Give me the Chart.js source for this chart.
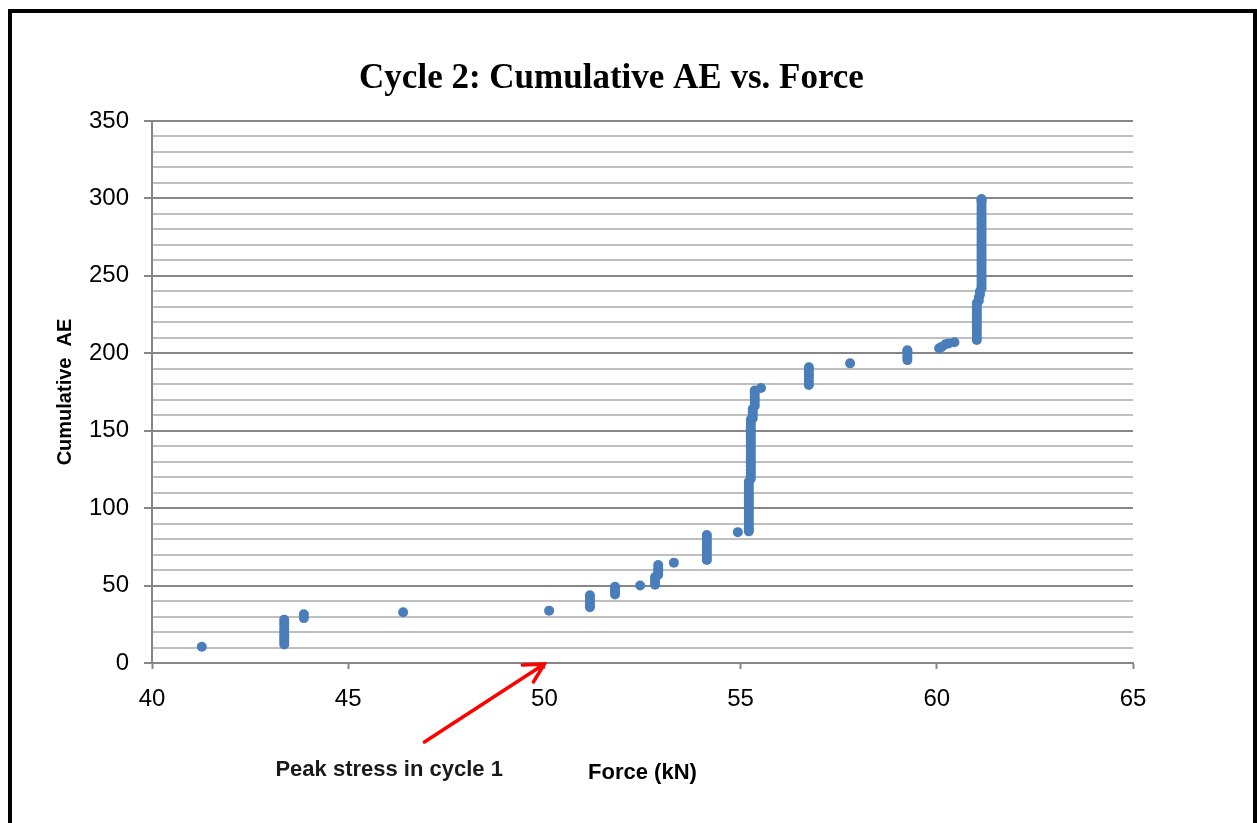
<!DOCTYPE html>
<html>
<head>
<meta charset="utf-8">
<title>Cycle 2: Cumulative AE vs. Force</title>
<script src="https://cdn.jsdelivr.net/npm/chart.js@4"></script>
<style>
  body { margin: 0; background: #fff; }
  #wrap { position: relative; width: 1257px; height: 823px; overflow: hidden; }
  #frame { position: absolute; left: 8px; top: 9px; width: 1241px; height: 900px; border: 4px solid #000; }
  #myChart { position: absolute; left: 0; top: 0; }
</style>
</head>
<body>
<div id="wrap">
  <div id="frame"></div>
  <canvas id="myChart" width="1223" height="823"></canvas>
</div>
<script>
// pontos (força em kN, AE acumulado)
var forceKN = [
  41.27,
  43.37, 43.37, 43.37, 43.37, 43.37, 43.37, 43.37, 43.37, 43.37,
  43.87, 43.87,
  46.4,
  50.12,
  51.16, 51.16, 51.16, 51.16, 51.16,
  51.8, 51.8, 51.8, 51.8,
  52.44,
  52.82, 52.82, 52.82, 52.82,
  52.9, 52.9, 52.9, 52.9,
  53.3,
  54.14, 54.14, 54.14, 54.14, 54.14, 54.14, 54.14, 54.14, 54.14,
  54.93,
  55.21, 55.21, 55.21, 55.21, 55.21, 55.21, 55.21, 55.21, 55.21,
  55.21, 55.21, 55.21, 55.21, 55.21, 55.21, 55.21, 55.21,
  55.26, 55.26, 55.26, 55.26, 55.26, 55.26, 55.26, 55.26, 55.26, 55.26,
  55.26, 55.26, 55.26, 55.26, 55.26, 55.26, 55.26, 55.26, 55.26, 55.26,
  55.31, 55.31, 55.31, 55.31,
  55.36, 55.36, 55.36, 55.36, 55.36, 55.36,
  55.52,
  56.74, 56.74, 56.74, 56.74, 56.74, 56.74, 56.74,
  57.79,
  59.25, 59.25, 59.25, 59.25, 59.25,
  60.06, 60.12, 60.22, 60.3, 60.45,
  61.02, 61.02, 61.02, 61.02, 61.02, 61.02, 61.02, 61.02, 61.02, 61.02, 61.02, 61.02, 61.02,
  61.07, 61.07, 61.1, 61.1,
  61.14, 61.14, 61.14, 61.14, 61.14, 61.14, 61.14, 61.14, 61.14, 61.14,
  61.14, 61.14, 61.14, 61.14, 61.14, 61.14, 61.14, 61.14, 61.14, 61.14,
  61.14, 61.14, 61.14, 61.14, 61.14, 61.14, 61.14, 61.14, 61.14, 61.14,
  61.14
];
var cumulativeAE = [
  10.5,
  12, 14, 16, 18, 20, 22, 24, 26, 28,
  29, 31.5,
  32.8,
  33.8,
  36, 38, 40, 42, 43.8,
  44.2, 46, 48, 49.2,
  50,
  50.5, 52, 54, 55.5,
  57, 59, 61, 63.3,
  64.8,
  66.5, 68.5, 70.5, 72.5, 74.5, 76.5, 78.5, 80.5, 82.6,
  84.5,
  85, 87, 89, 91, 93, 95, 97, 99, 101,
  103, 105, 107, 109, 111, 113, 115, 117,
  119, 121, 123, 125, 127, 129, 131, 133, 135, 137,
  139, 141, 143, 145, 147, 149, 151, 153, 155, 157,
  158, 160, 162, 164,
  166, 168, 170, 172, 174, 176,
  177.6,
  179.5, 181.5, 183.5, 185.5, 187.5, 189.5, 191,
  193.5,
  195.6, 197.5, 199.5, 201, 202,
  203.2, 204, 205.8, 206.3, 207.1,
  208.6, 210.5, 212.5, 214.5, 216.5, 218.5, 220.5, 222.5, 224.5, 226.5, 228.5, 230.5, 232.5,
  234, 236, 238, 240,
  242, 244, 246, 248, 250, 252, 254, 256, 258, 260,
  262, 264, 266, 268, 270, 272, 274, 276, 278, 280,
  282, 284, 286, 288, 290, 292, 294, 296, 298, 299,
  299.6
];

var xTicks = [40, 45, 50, 55, 60, 65];
var yTicks = [0, 10, 20, 30, 40, 50, 60, 70, 80, 90, 100, 110, 120, 130, 140, 150, 160, 170,
              180, 190, 200, 210, 220, 230, 240, 250, 260, 270, 280, 290, 300, 310, 320, 330, 340, 350];
var yMajor = [0, 50, 100, 150, 200, 250, 300, 350];

var tituloGrafico = 'Cycle 2: Cumulative AE vs. Force';
var tituloX = 'Force (kN)';
var tituloY = 'Cumulative  AE';
var notaTexto = 'Peak stress in cycle 1';
var notaPonto = [50, 0];

var pontos = forceKN.map(function (f, i) { return { x: f, y: cumulativeAE[i] }; });

// seta vermelha e texto da anotacao
var anotacao = {
    id: 'anotacao',
    afterDraw: function (chart) {
        var ctx = chart.ctx;
        var px = chart.scales.x.getPixelForValue(notaPonto[0]);
        var py = chart.scales.y.getPixelForValue(notaPonto[1]) + 1;
        ctx.save();
        ctx.strokeStyle = '#ff0000';
        ctx.lineWidth = 3.5;
        ctx.lineCap = 'round';
        ctx.beginPath();
        ctx.moveTo(px - 120, py + 78);
        ctx.lineTo(px, py);
        ctx.moveTo(px - 22, py + 1);
        ctx.lineTo(px, py);
        ctx.lineTo(px - 11, py + 18);
        ctx.stroke();
        ctx.fillStyle = '#1a1a1a';
        ctx.font = 'bold 22px "Liberation Sans"';
        ctx.textBaseline = 'middle';
        ctx.textAlign = 'left';
        ctx.fillText(notaTexto, px - 269, py + 106);
        ctx.restore();
    }
};

const ctx = document.getElementById('myChart');

var grafico = new Chart(ctx, {
    type: 'scatter',
    data: {
        datasets: [{
            label: 'Cumulative AE',
            data: pontos,
            backgroundColor: '#4a7ebb',
            borderColor: '#4a7ebb',
            borderWidth: 0,
            pointRadius: 5,
            pointHoverRadius: 5
        }]
    },
    options: {
        responsive: false,
        animation: false,
        devicePixelRatio: 1,
        layout: { padding: { left: 90, right: 90, top: 0, bottom: 0 } },
        plugins: {
            legend: { display: false },
            tooltip: { enabled: false },
            title: {
                display: true,
                text: tituloGrafico,
                color: '#000',
                font: { family: '"Liberation Serif"', size: 35, weight: 'bold', lineHeight: 1.2 },
                padding: { top: 58, bottom: 21 }
            }
        },
        scales: {
            x: {
                type: 'linear',
                min: 40,
                max: 65,
                afterFit: function (scale) { scale.height = 160; },
                afterBuildTicks: function (scale) {
                    scale.ticks = xTicks.map(function (v) { return { value: v }; });
                },
                ticks: {
                    color: '#000',
                    font: { family: '"Liberation Sans"', size: 24 },
                    padding: 16,
                    maxRotation: 0,
                    autoSkip: false
                },
                grid: {
                    drawOnChartArea: false,
                    drawTicks: true,
                    tickLength: 6,
                    tickColor: '#868686',
                    tickWidth: 2
                },
                border: { color: '#868686', width: 2 },
                title: {
                    display: true,
                    text: tituloX,
                    color: '#000',
                    font: { family: '"Liberation Sans"', size: 22, weight: 'bold', lineHeight: 1.2 },
                    padding: { top: 0, bottom: 37 }
                }
            },
            y: {
                min: 0,
                max: 350,
                afterFit: function (scale) { scale.width = 62; },
                afterBuildTicks: function (scale) {
                    scale.ticks = yTicks.map(function (v) { return { value: v }; });
                },
                ticks: {
                    color: '#000',
                    font: { family: '"Liberation Sans"', size: 24 },
                    padding: 15,
                    autoSkip: false,
                    callback: function (v) {
                        return yMajor.indexOf(v) >= 0 ? String(v) : '';
                    }
                },
                grid: {
                    color: function (c) {
                        return yMajor.indexOf(c.tick.value) >= 0 ? '#868686' : '#bfbfbf';
                    },
                    lineWidth: 2,
                    tickLength: 8,
                    tickColor: function (c) {
                        return yMajor.indexOf(c.tick.value) >= 0 ? '#868686' : 'rgba(0,0,0,0)';
                    }
                },
                border: { color: '#868686', width: 2 },
                title: {
                    display: true,
                    text: tituloY,
                    color: '#000',
                    font: { family: '"Liberation Sans"', size: 20, weight: 'bold', lineHeight: 1.2 },
                    padding: { top: -37, bottom: 0 }
                }
            }
        }
    },
    plugins: [anotacao]
});
</script>
</body>
</html>
